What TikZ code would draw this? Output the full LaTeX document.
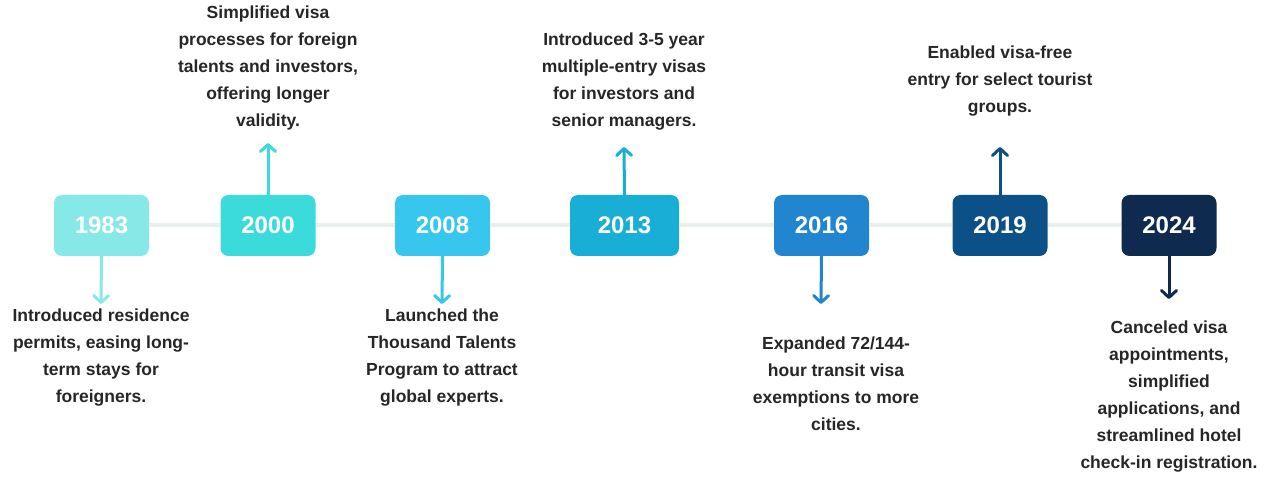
\documentclass[tikz,border=0pt]{standalone}
\usepackage{fontspec}
\setmainfont{Liberation Sans}
\usetikzlibrary{arrows.meta,positioning}

\definecolor{c1983}{HTML}{87E8E8}
\definecolor{c2000}{HTML}{3BDBDB}
\definecolor{c2008}{HTML}{36C6EE}
\definecolor{c2013}{HTML}{19AED6}
\definecolor{c2016}{HTML}{2185D0}
\definecolor{c2019}{HTML}{0B5086}
\definecolor{c2024}{HTML}{0E2A4E}
\definecolor{railgray}{HTML}{E9EEEE}
\definecolor{txtdark}{HTML}{262626}

\begin{document}
\begin{tikzpicture}[x=1pt,y=-1pt,
    yearbox/.style={fill=#1,rounded corners=8pt,minimum width=95pt,minimum height=61pt,
      inner sep=0pt,text=white,font=\fontsize{24}{26}\selectfont\bfseries},
    note/.style={align=center,text=txtdark,inner sep=0pt,
      font=\fontsize{17.5}{27}\selectfont\bfseries},
    tick/.style={line width=3pt,draw=#1,
      -{Straight Barb[length=7pt,width=15pt,round]}},
    rail/.style={line width=4pt,draw=railgray}]

  \useasboundingbox (0,0) rectangle (1272,478);

  % year boxes
  \node[yearbox=c1983] (y1983) at (101.5,225.5) {1983};
  \node[yearbox=c2000] (y2000) at (268,225.5) {2000};
  \node[yearbox=c2008] (y2008) at (442.5,225.5) {2008};
  \node[yearbox=c2013,minimum width=109pt] (y2013) at (624.5,225.5) {2013};
  \node[yearbox=c2016] (y2016) at (821.5,225.5) {2016};
  \node[yearbox=c2019] (y2019) at (1000,225.5) {2019};
  \node[yearbox=c2024] (y2024) at (1169,225.5) {2024};

  % rail between boxes
  \draw[rail] (y1983.east) -- (y2000.west);
  \draw[rail] (y2000.east) -- (y2008.west);
  \draw[rail] (y2008.east) -- (y2013.west);
  \draw[rail] (y2013.east) -- (y2016.west);
  \draw[rail] (y2016.east) -- (y2019.west);
  \draw[rail] (y2019.east) -- (y2024.west);

  % notes
  \node[note] (n1983) at (101,358) {Introduced residence\\permits, easing long-\\term stays for\\foreigners.};
  \node[note] (n2000) at (268,68) {Simplified visa\\processes for foreign\\talents and investors,\\offering longer\\validity.};
  \node[note] (n2008) at (442,358) {Launched the\\Thousand Talents\\Program to attract\\global experts.};
  \node[note] (n2013) at (624,82) {Introduced 3-5 year\\multiple-entry visas\\for investors and\\senior managers.};
  \node[note] (n2016) at (836,384) {Expanded 72/144-\\hour transit visa\\exemptions to more\\cities.};
  \node[note] (n2019) at (1000,81) {Enabled visa-free\\entry for select tourist\\groups.};
  \node[note] (n2024) at (1169,397) {Canceled visa\\appointments,\\simplified\\applications, and\\streamlined hotel\\check-in registration.};

  % arrow ends
  \coordinate (a1983) at (101,304);
  \coordinate (a2000) at (268,143);
  \coordinate (a2008) at (442,304);
  \coordinate (a2013) at (624,147);
  \coordinate (a2016) at (821,304);
  \coordinate (a2019) at (1000,147);
  \coordinate (a2024) at (1169,299);

  \draw[tick=c1983] (y1983.south) -- (a1983);
  \draw[tick=c2000] (y2000.north) -- (a2000);
  \draw[tick=c2008] (y2008.south) -- (a2008);
  \draw[tick=c2013] (y2013.north) -- (a2013);
  \draw[tick=c2016] (y2016.south) -- (a2016);
  \draw[tick=c2019] (y2019.north) -- (a2019);
  \draw[tick=c2024] (y2024.south) -- (a2024);
\end{tikzpicture}
\end{document}
